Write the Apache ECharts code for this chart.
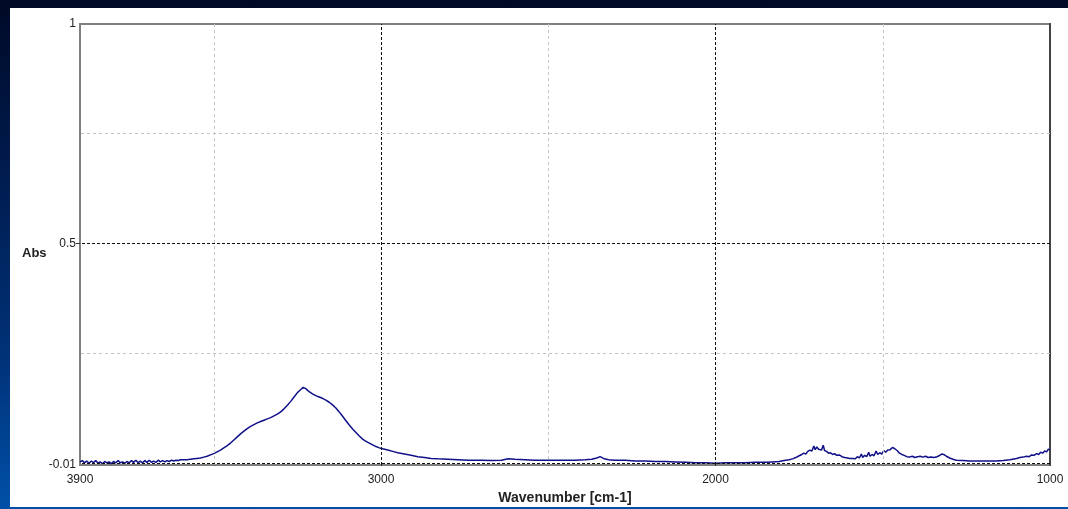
<!DOCTYPE html>
<html>
<head>
<meta charset="utf-8">
<script src="https://cdn.jsdelivr.net/npm/echarts@6/dist/echarts.min.js"></script>
<style>
html,body{margin:0;padding:0;width:1068px;height:509px;overflow:hidden;}
body{background:linear-gradient(to bottom,#000a26 0%,#001c50 35%,#003277 70%,#0050a8 100%);}
#panel{position:absolute;left:10px;top:8px;width:1058px;height:499px;background:#fff;}
#chart{width:1058px;height:499px;}
</style>
</head>
<body>
<div id="panel"><div id="chart"></div></div>
<script>
// Spectrum data
const wavenumbers = [3900,3893,3887,3880,3873,3866,3860,3853,3846,3840,3833,3826,3820,3813,3806,3800,3793,3786,3780,3773,3766,3760,3753,3746,3740,3733,3726,3720,3713,3706,3700,3693,3686,3680,3673,3666,3660,3653,3646,3640,3633,3626,3620,3613,3606,3600,3590,3580,3570,3560,3550,3540,3530,3520,3510,3500,3490,3480,3470,3460,3450,3440,3430,3420,3410,3400,3390,3380,3370,3360,3350,3340,3330,3320,3310,3300,3290,3280,3270,3260,3250,3240,3233,3225,3215,3205,3195,3185,3175,3165,3155,3145,3135,3125,3115,3105,3095,3085,3075,3065,3055,3045,3035,3025,3015,3005,2995,2980,2965,2950,2930,2910,2890,2870,2850,2830,2800,2770,2740,2700,2670,2640,2620,2600,2570,2540,2500,2460,2420,2390,2370,2355,2345,2335,2320,2300,2270,2240,2210,2180,2150,2120,2090,2060,2030,2000,1970,1940,1910,1880,1850,1830,1810,1795,1780,1770,1760,1750,1742,1736,1730,1724,1718,1712,1706,1702,1697,1692,1688,1683,1678,1674,1668,1662,1656,1650,1644,1638,1630,1622,1614,1606,1598,1590,1582,1576,1570,1564,1560,1554,1548,1542,1538,1532,1526,1520,1515,1509,1503,1497,1491,1485,1478,1471,1464,1457,1450,1443,1436,1428,1420,1412,1404,1396,1388,1380,1372,1364,1356,1348,1340,1332,1324,1318,1310,1300,1290,1280,1260,1240,1220,1200,1180,1160,1140,1120,1100,1090,1080,1070,1062,1055,1048,1040,1034,1028,1022,1016,1010,1005,1000];
const absorbance = [0.002,0.005,0.000,0.004,-0.001,0.004,0.000,0.005,-0.001,0.002,-0.002,0.003,0.000,0.002,-0.002,0.003,0.000,0.005,0.000,0.002,-0.001,0.003,0.000,0.005,0.001,0.006,0.000,0.004,0.000,0.005,0.001,0.006,0.001,0.004,0.001,0.006,0.002,0.005,0.002,0.005,0.003,0.006,0.004,0.006,0.005,0.007,0.007,0.007,0.008,0.009,0.010,0.011,0.013,0.015,0.018,0.021,0.025,0.029,0.034,0.039,0.045,0.052,0.059,0.066,0.072,0.078,0.083,0.087,0.091,0.094,0.097,0.100,0.103,0.107,0.111,0.116,0.123,0.131,0.140,0.150,0.160,0.167,0.172,0.169,0.162,0.157,0.153,0.150,0.147,0.143,0.138,0.132,0.125,0.116,0.106,0.096,0.086,0.077,0.069,0.061,0.054,0.049,0.045,0.041,0.037,0.034,0.032,0.029,0.026,0.023,0.020,0.017,0.014,0.012,0.010,0.009,0.008,0.007,0.006,0.006,0.005,0.006,0.009,0.008,0.007,0.006,0.006,0.006,0.006,0.007,0.008,0.011,0.014,0.010,0.007,0.006,0.006,0.004,0.004,0.003,0.003,0.002,0.001,0.000,0.000,-0.001,0.000,0.000,0.000,0.001,0.001,0.002,0.003,0.005,0.007,0.009,0.012,0.016,0.019,0.022,0.020,0.026,0.029,0.027,0.038,0.030,0.036,0.031,0.034,0.029,0.040,0.028,0.026,0.022,0.023,0.019,0.021,0.017,0.018,0.014,0.012,0.011,0.010,0.010,0.009,0.014,0.011,0.020,0.012,0.017,0.014,0.024,0.015,0.019,0.016,0.027,0.019,0.023,0.020,0.028,0.024,0.029,0.030,0.035,0.032,0.028,0.022,0.019,0.017,0.014,0.013,0.015,0.012,0.014,0.015,0.013,0.015,0.012,0.013,0.012,0.013,0.016,0.020,0.019,0.015,0.011,0.008,0.006,0.005,0.004,0.004,0.004,0.004,0.004,0.005,0.007,0.010,0.012,0.013,0.015,0.014,0.018,0.017,0.021,0.019,0.024,0.022,0.027,0.025,0.031,0.029];
const xTickLabels = [3900, 3000, 2000, 1000];
const yAxisMin = -0.005;
const yTickLabels = ['-0.01', '0.5', '1'];
const yTickValues = [-0.005, 0.5, 1];
const xMinorGrid = [3500, 2500, 1500];
const xMajorGrid = [3000, 2000];
const yMinorGrid = [0.25, 0.75];
const yMajorGrid = [0, 0.5];

const points = wavenumbers.map((w, i) => [w, absorbance[i]]);
const light = {color: '#c4c4c4', type: [3, 3], width: 1};
const dark = {color: '#111', type: [3, 2], width: 1};
const markData = []
  .concat(xMinorGrid.map(v => ({xAxis: v, lineStyle: light})))
  .concat(xMajorGrid.map(v => ({xAxis: v, lineStyle: dark})))
  .concat(yMinorGrid.map(v => ({yAxis: v, lineStyle: light})))
  .concat(yMajorGrid.map(v => ({yAxis: v, lineStyle: dark})));

const chart = echarts.init(document.getElementById('chart'), null, {renderer: 'canvas'});
const font = '"Liberation Sans", Arial, sans-serif';
chart.setOption({
  animation: false,
  backgroundColor: '#fff',
  title: {
    text: 'Abs', left: 12, top: 239, padding: 0,
    textStyle: {fontFamily: font, fontWeight: 'bold', fontSize: 13, color: '#222'}
  },
  grid: {left: 70, right: 18, top: 16, bottom: 42, show: true, borderColor: '#808080', borderWidth: 2,
    backgroundColor: 'transparent', containLabel: false, outerBoundsMode: 'none'},
  xAxis: {
    type: 'value', min: 1000, max: 3900, interval: 500, inverse: true,
    name: 'Wavenumber [cm-1]', nameLocation: 'middle', nameGap: 24,
    nameTextStyle: {fontFamily: font, fontWeight: 'bold', fontSize: 14, color: '#222'},
    axisLine: {show: false},
    axisTick: {show: true, length: 3, customValues: [3500, 3000, 2500, 2000, 1500], lineStyle: {color: '#333'}},
    axisLabel: {customValues: xTickLabels, margin: 9, fontFamily: font, fontSize: 12, color: '#222',
      formatter: v => String(v)},
    splitLine: {show: false}
  },
  yAxis: [{
    type: 'value', min: yAxisMin, max: 1,
    axisLine: {show: false},
    axisTick: {show: true, length: 4, customValues: [0.5], lineStyle: {color: '#333'}},
    axisLabel: {customValues: yTickValues, margin: 4, fontFamily: font, fontSize: 12, color: '#222',
      formatter: v => { const i = yTickValues.indexOf(v); return i >= 0 ? yTickLabels[i] : String(v); }},
    splitLine: {show: false}
  }, {
    type: 'value', min: yAxisMin, max: 1, position: 'right',
    axisLine: {show: true, lineStyle: {color: '#444', width: 2}},
    axisTick: {show: false}, axisLabel: {show: false}, splitLine: {show: false}
  }],
  series: [{
    type: 'line', data: points, showSymbol: false, symbol: 'none',
    lineStyle: {color: '#101088', width: 1.5},
    z: 3,
    markLine: {silent: true, symbol: 'none', label: {show: false}, data: markData, animation: false}
  }]
});
</script>
</body>
</html>
